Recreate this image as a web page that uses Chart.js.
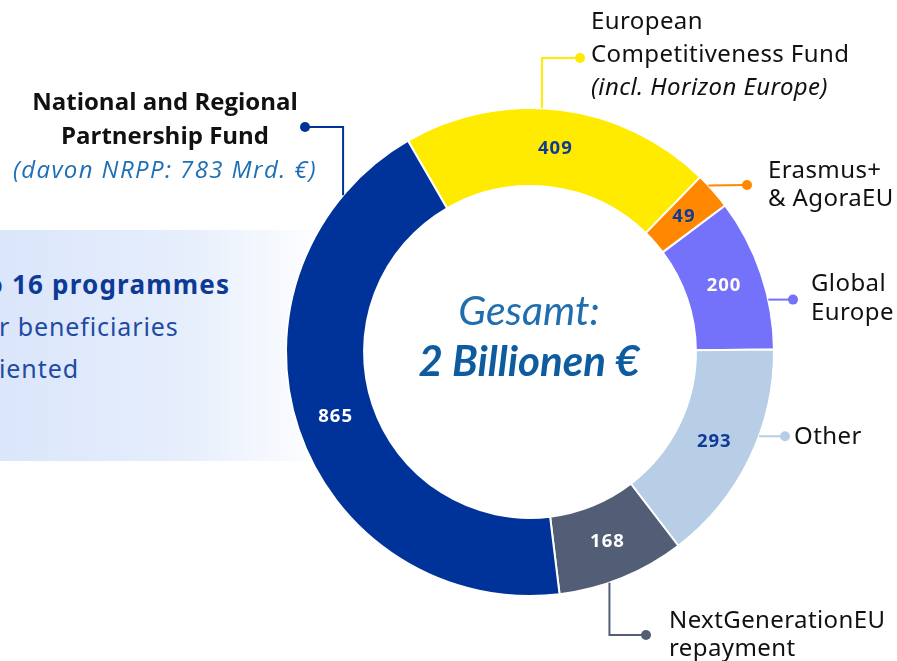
<!DOCTYPE html>
<html>
<head>
<meta charset="utf-8">
<script src="https://cdn.jsdelivr.net/npm/chart.js@4"></script>
<style>
  body { margin: 0; background: #fff; width: 897px; height: 661px; overflow: hidden; position: relative; font-family: "Noto Sans", sans-serif; }
  #chart { position: absolute; left: 0; top: 0; z-index: 2; }
  .box { position: absolute; left: 0; top: 230px; width: 330px; height: 231px; z-index: 1;
         background: linear-gradient(to right, #dbe6fb 0%, #e6eefc 55%, #ffffff 100%); }
  .txt { position: absolute; z-index: 3; white-space: nowrap; color: #111; }
  .lbl { font-family: "Noto Sans", sans-serif; font-size: 24px; letter-spacing: 0.4px; }
  .cut { position: absolute; right: 100%; }
  .center { font-family: Lato, sans-serif; font-style: italic; text-align: center; }
</style>
</head>
<body>
<canvas id="chart" width="897" height="661"></canvas>

<div class="box">
  <div class="txt" style="left:12px; top:36px; font-size:26px; letter-spacing:1.2px; font-weight:700; color:#0e3a96; line-height:36px;"><span class="cut">From 52 to&nbsp;</span>16 programmes</div>
  <div class="txt" style="left:-1px; top:78px; font-size:25px; letter-spacing:0.9px; color:#1d4ba5; line-height:36px;"><span class="cut">Simpler rules fo</span>r beneficiaries</div>
  <div class="txt" style="left:-1px; top:120px; font-size:25px; letter-spacing:0.9px; color:#1d4ba5; line-height:36px;"><span class="cut">More performance-or</span>iented</div>
</div>

<div class="txt" style="left:0; width:330px; top:84px; line-height:34px; text-align:center; font-family:'Open Sans', sans-serif; font-size:24px; font-weight:700;">
  National and Regional<br>Partnership Fund<br>
  <span style="font-weight:400; font-style:italic; color:#1f6fb4; letter-spacing:1.4px;">(davon NRPP: 783 Mrd. €)</span>
</div>

<div class="txt lbl" style="left:591px; top:3px; line-height:33px;">European<br>Competitiveness Fund<br><i>(incl. Horizon Europe)</i></div>
<div class="txt lbl" style="left:768px; top:155px; line-height:28px;">Erasmus+<br>&amp; AgoraEU</div>
<div class="txt lbl" style="left:811px; top:267px; line-height:29px;">Global<br>Europe</div>
<div class="txt lbl" style="left:794px; top:420px; line-height:30px;">Other</div>
<div class="txt lbl" style="left:669px; top:605px; line-height:28px;">NextGenerationEU<br>repayment</div>

<div class="txt center" style="left:379px; width:300px; top:287px; font-size:41px; color:#1f6fb0; line-height:46px;">Gesamt:</div>
<div class="txt center" style="left:379px; width:300px; top:336px; font-size:42px; font-weight:700; color:#0d5c9f; line-height:48px;">2 Billionen €</div>

<script>
const categories = ['European Competitiveness Fund', 'Erasmus+ & AgoraEU', 'Global Europe', 'Other', 'NextGenerationEU repayment', 'National and Regional Partnership Fund'];
const values = [409, 49, 200, 293, 168, 865];
const colors = ['#ffeb00', '#ff8800', '#7472fb', '#b8cee7', '#525d76', '#003399'];
const valueColors = ['#0f3a96', '#0f3a96', '#ffffff', '#0f3a96', '#ffffff', '#ffffff'];

// Leader lines: start angle on the outer edge (deg, clockwise from top), then path steps
const leaders = [
    { angle: 2.8, steps: [['v', 58], ['h', 580]] },
    { angle: 47, steps: [['p', 747, 185]] },
    { angle: 77.6, steps: [['h', 793]] },
    { angle: 110.2, steps: [['h', 785]] },
    { angle: 161, steps: [['v', 635], ['h', 646]] },
    { angle: -50, steps: [['v', 127], ['h', 305]] }
];

const sliceExtras = {
    id: 'sliceExtras',
    afterDatasetsDraw(chart) {
        const ctx = chart.ctx;
        const arcs = chart.getDatasetMeta(0).data;
        ctx.save();
        // values inside the slices
        ctx.font = '700 18.5px "Noto Sans", sans-serif';
        ctx.letterSpacing = '1px';
        ctx.textAlign = 'center';
        ctx.textBaseline = 'middle';
        arcs.forEach((arc, i) => {
            const p = arc.getCenterPoint();
            ctx.fillStyle = valueColors[i];
            ctx.fillText(values[i], p.x, p.y);
        });
        ctx.letterSpacing = '0px';
        // leader lines
        arcs.forEach((arc, i) => {
            const l = leaders[i];
            const a = l.angle * Math.PI / 180;
            let x = arc.x + arc.outerRadius * Math.sin(a);
            let y = arc.y - arc.outerRadius * Math.cos(a);
            ctx.strokeStyle = colors[i];
            ctx.fillStyle = colors[i];
            ctx.lineWidth = 2;
            ctx.beginPath();
            ctx.moveTo(x, y);
            l.steps.forEach(s => {
                if (s[0] === 'v') y = s[1];
                else if (s[0] === 'h') x = s[1];
                else { x = s[1]; y = s[2]; }
                ctx.lineTo(x, y);
            });
            ctx.stroke();
            ctx.beginPath();
            ctx.arc(x, y, 5, 0, Math.PI * 2);
            ctx.fill();
        });
        ctx.restore();
    }
};

new Chart(document.getElementById('chart'), {
    type: 'doughnut',
    data: {
        labels: categories,
        datasets: [{
            data: values,
            backgroundColor: colors,
            borderColor: '#ffffff',
            borderWidth: 2,
            hoverOffset: 0
        }]
    },
    options: {
        responsive: false,
        animation: false,
        rotation: -30,
        cutout: '68%',
        layout: { padding: { left: 285, right: 122, top: 107, bottom: 64 } },
        plugins: {
            legend: { display: false },
            tooltip: { enabled: false }
        }
    },
    plugins: [sliceExtras]
});
</script>
</body>
</html>
